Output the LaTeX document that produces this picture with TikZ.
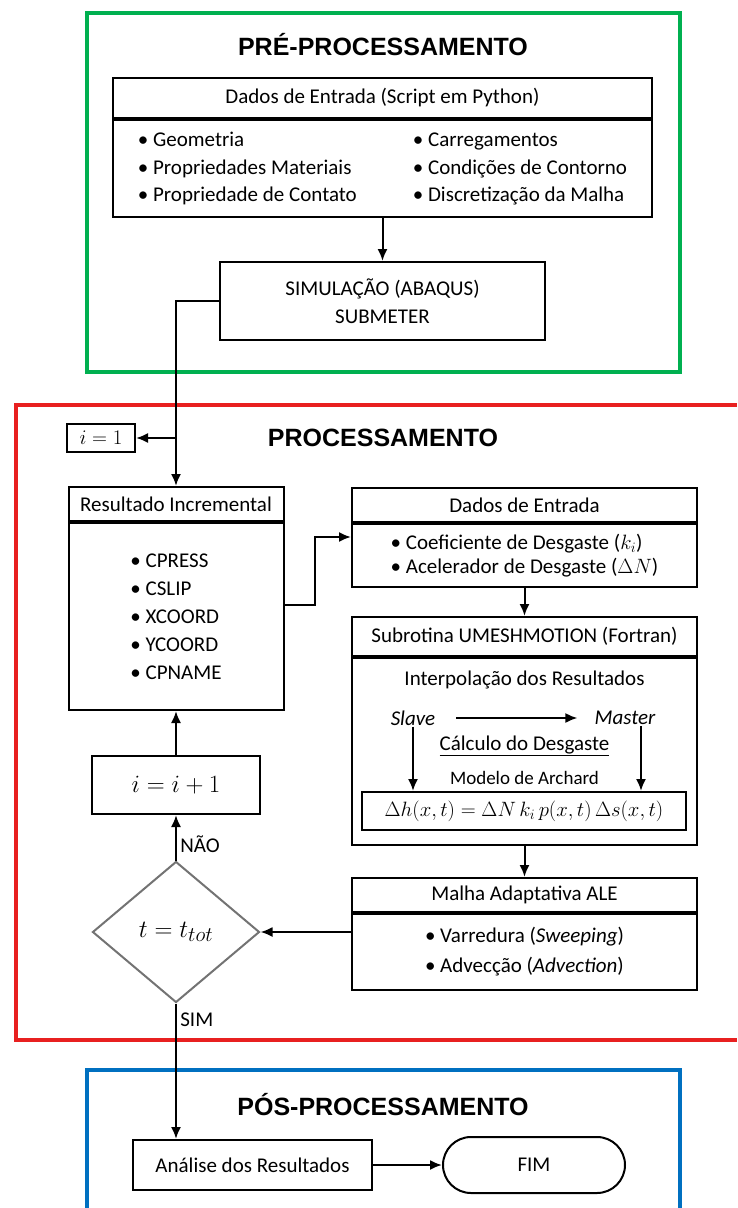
\documentclass[tikz,border=0pt]{standalone}
\usepackage{fontspec}
\setmainfont{Carlito}
\newfontfamily\titlefont{Liberation Sans}
\usepackage{tikz}
\usetikzlibrary{shapes, arrows.meta, positioning, calc}
\definecolor{preGreen}{RGB}{0,176,80}
\definecolor{procRed}{RGB}{232,32,32}
\definecolor{posBlue}{RGB}{0,112,192}
\renewcommand{\arraystretch}{1.1}
\tikzset{
    base/.style={draw=black, line width=2pt, align=center, inner sep=0pt},
    block/.style={base, rectangle},
    blockbody/.style={base, rectangle, anchor=north},
    decision/.style={base, diamond, draw=black!55},
    terminal/.style={base, rounded rectangle},
    plaintext/.style={inner sep=1pt, align=center},
    heading/.style={font=\titlefont\bfseries\fontsize{25}{30}\selectfont},
    line/.style={draw=black, line width=2pt, -{Latex[length=12pt,width=10pt]}},
    frame/.style={line width=3.5pt}
}

\begin{document}
\begin{tikzpicture}[x=1pt, y=-1pt, font=\fontsize{21}{25}\selectfont]
    \useasboundingbox (0,0) rectangle (737,1208);

    \draw[frame, preGreen] (87,13) rectangle (680,372);
    \draw[frame, procRed] (737,405) -- (16,405) -- (16,1040) -- (737,1040);
    \draw[frame, posBlue] (87,1208) -- (87,1070) -- (680,1070) -- (680,1208);

    \node[heading] (PreTitle) at (383,45) {PRÉ-PROCESSAMENTO};
    \node[block, minimum width=539pt, minimum height=40pt] (PreHead) at (382.5,98) {Dados de Entrada (Script em Python)};
    \node[blockbody, minimum width=539pt, minimum height=97pt] (PreBody) at (PreHead.south) {%
        \begin{tabular}{@{}p{275pt}@{}l@{}}
        \textbullet\ Geometria & \textbullet\ Carregamentos\\
        \textbullet\ Propriedades Materiais & \textbullet\ Condições de Contorno\\
        \textbullet\ Propriedade de Contato & \textbullet\ Discretização da Malha
        \end{tabular}};
    \node[block, minimum width=325pt, minimum height=78pt, font=\fontsize{21}{28}\selectfont] (Sim) at (382.5,301) {SIMULAÇÃO (ABAQUS)\\SUBMETER};

    \node[heading] (ProcTitle) at (383,438) {PROCESSAMENTO};
    \node[block, minimum width=68pt, minimum height=28pt, font=\fontsize{20.74}{26}\selectfont] (Ione) at (101,438) {$i=1$};
    \node[block, minimum width=215pt, minimum height=34pt] (ResHead) at (176,504) {Resultado Incremental};
    \node[blockbody, minimum width=215pt, minimum height=187pt, align=left, font=\fontsize{21}{28}\selectfont] (ResBody) at (ResHead.south) {%
        \textbullet\ CPRESS\\ \textbullet\ CSLIP\\ \textbullet\ XCOORD\\ \textbullet\ YCOORD\\ \textbullet\ CPNAME};
    \node[block, minimum width=168pt, minimum height=58pt, font=\fontsize{24.88}{28}\selectfont] (Incr) at (176,785) {$i=i+1$};
    \node[decision, minimum width=167pt, minimum height=141pt, font=\fontsize{24.88}{30}\selectfont] (Check) at (176,932) {$t=t_{tot}$};

    \node[block, minimum width=345pt, minimum height=34pt] (DadosHead) at (524.5,505) {Dados de Entrada};
    \node[blockbody, minimum width=345pt, minimum height=63pt, align=left, font=\fontsize{21}{24}\selectfont] (DadosBody) at (DadosHead.south) {%
        \textbullet\ Coeficiente de Desgaste ($k_i$)\\ \textbullet\ Acelerador de Desgaste ($\Delta N$)};

    \node[block, minimum width=345pt, minimum height=39pt] (SubHead) at (524.5,636.5) {Subrotina UMESHMOTION (Fortran)};
    \node[blockbody, minimum width=345pt, minimum height=187pt] (SubBody) at (SubHead.south) {};
    \node[plaintext] (Interp) at (524.5,680) {Interpolação dos Resultados};
    \node[plaintext, font=\fontsize{21}{25}\selectfont\itshape] (Slave) at (413,718) {Slave};
    \node[plaintext, font=\fontsize{21}{25}\selectfont\itshape] (Master) at (625,718) {Master};
    \node[plaintext] (Calc) at (524.5,746) {\underline{Cálculo do Desgaste}};
    \node[plaintext, font=\fontsize{19}{22}\selectfont] (Archard) at (524.5,778) {Modelo de Archard};
    \node[block, minimum width=324pt, minimum height=38pt, font=\fontsize{20.74}{26}\selectfont] (Formula) at (524,811) {$\Delta h(x,t)=\Delta N\,k_i\,p(x,t)\,\Delta s(x,t)$};

    \node[block, minimum width=345pt, minimum height=34pt] (MalhaHead) at (524.5,895) {Malha Adaptativa ALE};
    \node[blockbody, minimum width=345pt, minimum height=76pt, align=left, font=\fontsize{21}{30}\selectfont] (MalhaBody) at (MalhaHead.south) {%
        \textbullet\ Varredura (\textit{Sweeping})\\ \textbullet\ Advecção (\textit{Advection})};

    \node[heading] (PosTitle) at (383,1105) {PÓS-PROCESSAMENTO};
    \node[block, minimum width=239pt, minimum height=50pt] (Analise) at (252.5,1165) {Análise dos Resultados};
    \node[terminal, minimum width=182pt, minimum height=56pt] (Fim) at (534,1165) {FIM};

    \draw[line] (PreBody.south) -- (Sim.north);
    \draw[line] (Sim.west) -| (ResHead.north);
    \draw[line] (ResHead.north |- Ione.east) -- (Ione.east);
    \draw[line] ([yshift=12pt]ResBody.east) -- ++(30,0) |- ([yshift=-14pt]DadosBody.north west);
    \draw[line] (DadosBody.south) -- (SubHead.north);
    \draw[line, shorten <=20pt, shorten >=16pt] (Slave) -- (Master);
    \draw[line] (Slave.south) -- (Slave.south |- Formula.north);
    \draw[line] ([xshift=16pt]Master.south) -- ([xshift=16pt]Master.south |- Formula.north);
    \draw[line] (SubBody.south) -- (MalhaHead.north);
    \draw[line] (Check.east -| MalhaBody.west) -- (Check.east);
    \draw[line] (Check.north) -- node[right, pos=0.35] {NÃO} (Incr.south);
    \draw[line] (Incr.north) -- (ResBody.south);
    \draw[line] (Check.south) -- node[right, pos=0.12] {SIM} (Check.south |- Analise.north);
    \draw[line] (Analise.east) -- (Fim.west);
\end{tikzpicture}
\end{document}
